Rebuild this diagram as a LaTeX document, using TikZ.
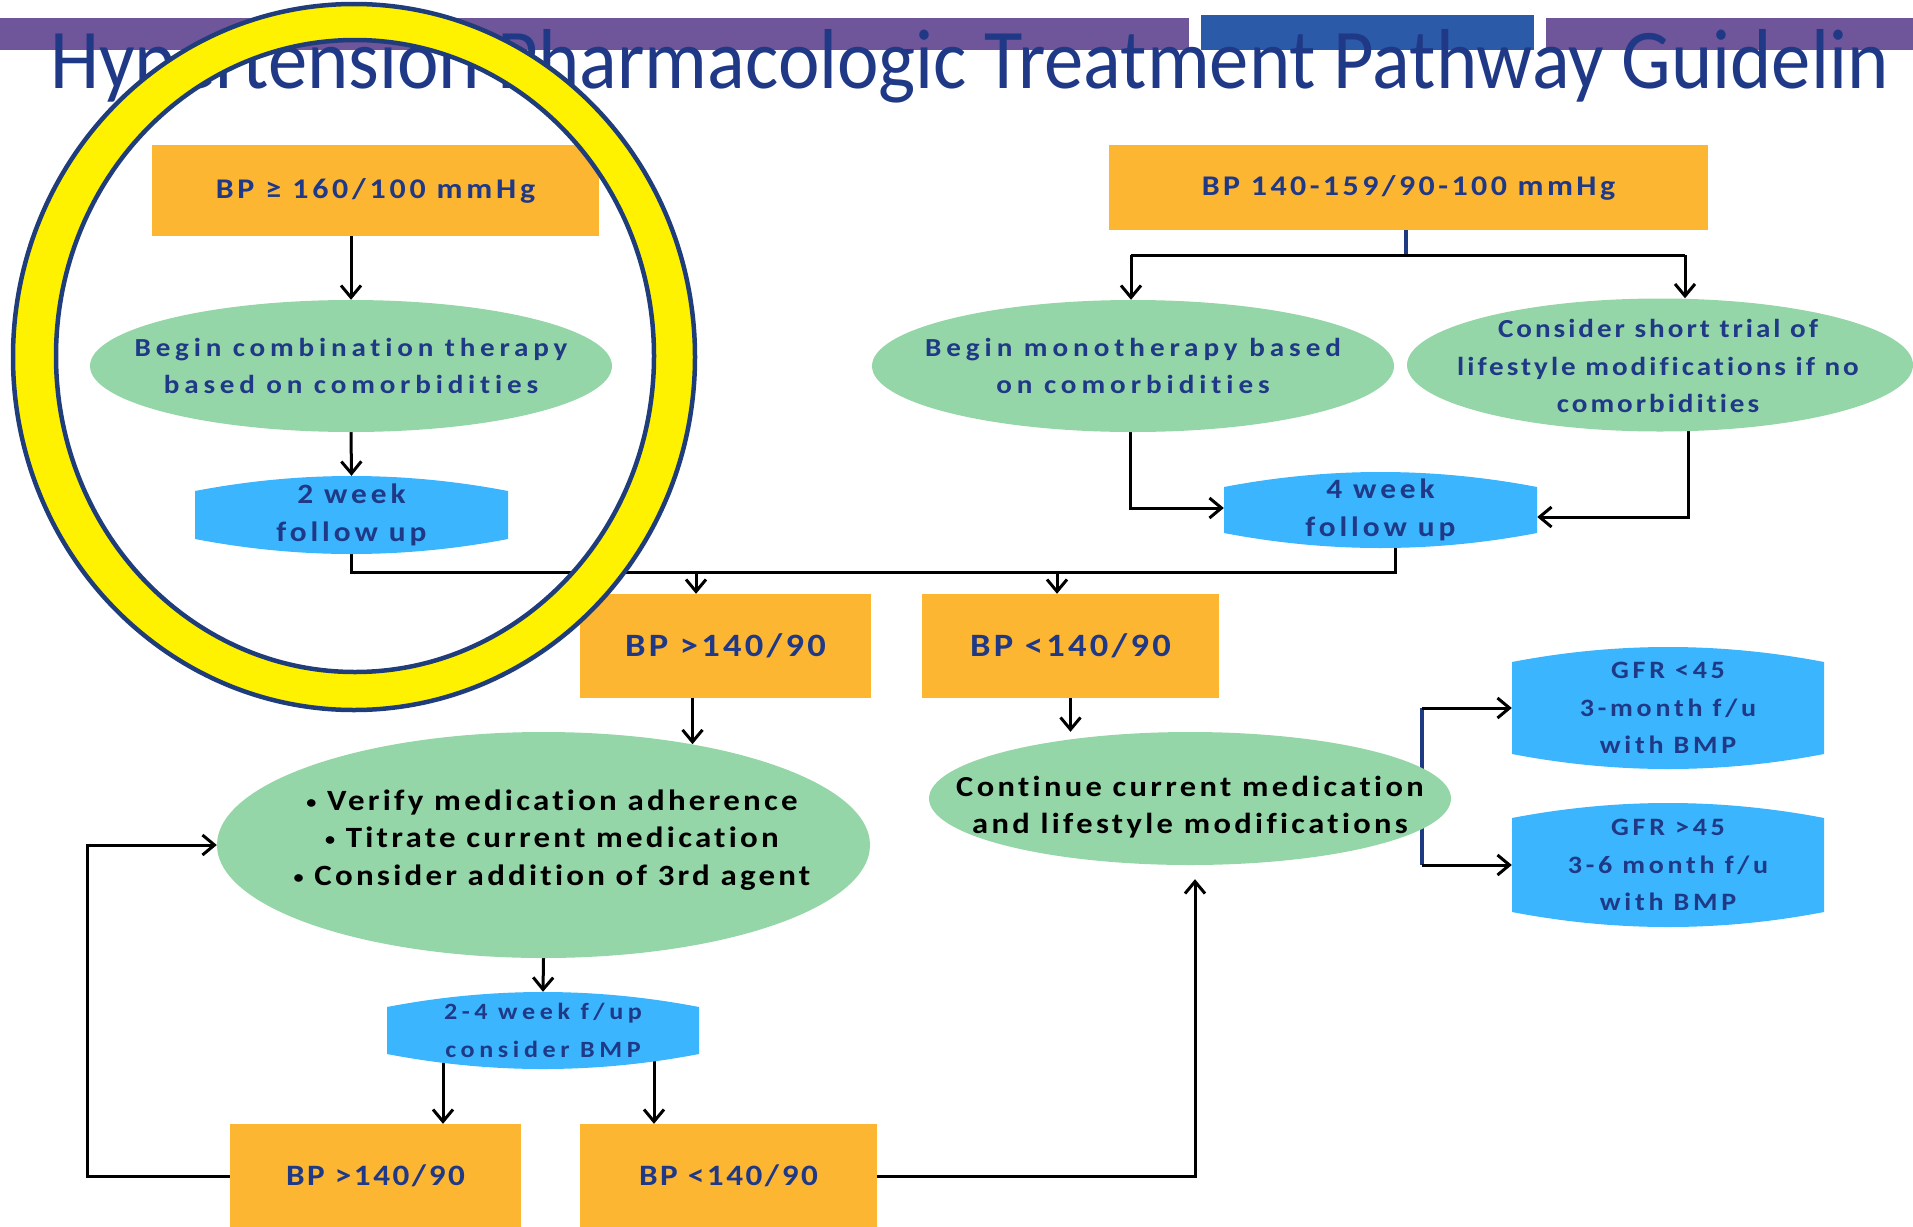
\documentclass[tikz,border=0pt]{standalone}
\usepackage{fontspec}
\setmainfont{Carlito}[Ligatures={TeX,NoCommon}]
\usetikzlibrary{shapes.geometric,arrows.meta,calc,backgrounds}
\definecolor{orng}{RGB}{253,182,50}
\definecolor{grn}{RGB}{149,214,168}
\definecolor{lblu}{RGB}{59,181,253}
\definecolor{tblu}{RGB}{31,57,135}
\definecolor{navyc}{RGB}{30,58,130}
\definecolor{purp}{RGB}{111,85,153}
\definecolor{bblk}{RGB}{42,90,168}
\definecolor{ringc}{RGB}{31,61,122}
\newcommand\myfnt[2]{\fontsize{#1}{37.5}\selectfont\bfseries\addfontfeature{LetterSpace=#2,FakeStretch=1.12}}
\newcommand\smbul{{\fontsize{18}{18}\selectfont\raisebox{2pt}{•}}}
\tikzset{
  rbox/.style={rectangle, fill=orng, inner sep=0pt, text=tblu},
  ell/.style={ellipse, fill=grn, inner sep=0pt},
  txt/.style={inner sep=0pt, align=center},
  lens/.style={rectangle, inner sep=0pt, text=tblu, align=center,
    path picture={
      \fill[lblu] let \p1=(path picture bounding box.south west),
                      \p2=(path picture bounding box.north east),
                      \n1={\x2-\x1} in
        (\x1,\y2-15pt) .. controls (\x1+\n1/3,\y2+5pt) and (\x2-\n1/3,\y2+5pt) .. (\x2,\y2-15pt)
        -- (\x2,\y1+15pt) .. controls (\x2-\n1/3,\y1-5pt) and (\x1+\n1/3,\y1-5pt) .. (\x1,\y1+15pt)
        -- cycle;
    }},
  ln/.style={line width=3pt, draw=black},
  arr/.style={line width=3pt, draw=black, -{Straight Barb[length=12pt,width=20pt]}},
  nv/.style={line width=4.5pt, draw=navyc},
}
\begin{document}
\begin{tikzpicture}[x=1pt,y=-1pt]
\useasboundingbox (0,0) rectangle (1913,1226);

% title
\node[anchor=base west, inner sep=0pt, text=tblu, font=\fontsize{85}{90}\selectfont\addfontfeature{FakeStretch=0.925}] (title) at (50,88) {Hypertension Pharmacologic Treatment Pathway Guidelin};

% top-left branch
\node[rbox, minimum width=447pt, minimum height=91pt, font=\myfnt{28.5}{13.2}] (A) at (375.5,190.5) {BP ≥ 160/100 mmHg};
\node[ell, minimum width=522pt, minimum height=132pt] (ellA) at (351,366) {};
\node[txt, text=tblu, font=\myfnt{26}{18.5}] (ellAt) at (351,366) {Begin combination therapy\\based on comorbidities};
\node[lens, minimum width=313pt, minimum height=78pt, font=\myfnt{28}{14}] (wk2) at (351.5,515) {2 week\\follow up};

% top-right branch
\node[rbox, minimum width=599pt, minimum height=85pt, font=\myfnt{28.5}{12.1}] (B) at (1408.5,187.5) {BP 140-159/90-100 mmHg};
\node[ell, minimum width=522pt, minimum height=132pt] (ellC) at (1133,366) {};
\node[txt, text=tblu, font=\myfnt{26}{19}] (ellCt) at (1133,366) {Begin monotherapy based\\on comorbidities};
\node[ell, minimum width=506pt, minimum height=133pt] (ellD) at (1660,365) {};
\node[txt, text=tblu, font=\myfnt{26}{11.5}] (ellDt) at (1658,366) {Consider short trial of\\lifestyle modifications if no\\comorbidities};
\node[lens, minimum width=313pt, minimum height=76pt, font=\myfnt{28}{14}] (wk4) at (1380.5,510) {4 week\\follow up};

% middle
\node[rbox, minimum width=291pt, minimum height=104pt, font=\myfnt{32.6}{10}] (E) at (725.5,646) {BP >140/90};
\node[rbox, minimum width=297pt, minimum height=104pt, font=\myfnt{32.6}{10}] (F) at (1070.5,646) {BP <140/90};
\node[ell, minimum width=653pt, minimum height=226pt] (G) at (543.5,845) {};
\node[txt, text=black, font=\myfnt{29.4}{11}] (Gt) at (552,840) {\smbul\ Verify medication adherence\\\smbul\ Titrate current medication\\\smbul\ Consider addition of 3rd agent};
\node[ell, minimum width=522pt, minimum height=133pt] (K) at (1190,798.5) {};
\node[txt, text=black, font=\myfnt{29}{11.6}] (Kt) at (1190,807) {Continue current medication\\and lifestyle modifications};
\node[lens, minimum width=312pt, minimum height=77pt, font=\myfnt{23.3}{19.8}] (H) at (543,1030.5) {2-4 week f/up\\consider BMP};
\node[lens, minimum width=312pt, minimum height=122pt, font=\myfnt{25}{15}] (L) at (1668,708) {GFR <45\\3-month f/u\\with BMP};
\node[lens, minimum width=312pt, minimum height=124pt, font=\myfnt{25}{15}] (M) at (1668,865) {GFR >45\\3-6 month f/u\\with BMP};

% bottom
\node[rbox, minimum width=291pt, minimum height=104pt, font=\myfnt{29.6}{8.6}] (I) at (375.5,1176) {BP >140/90};
\node[rbox, minimum width=297pt, minimum height=104pt, font=\myfnt{29.6}{8.6}] (J) at (728.5,1176) {BP <140/90};

\begin{scope}[on background layer]
  \fill[purp] (0,18) rectangle (1189,50);
  \fill[bblk] (1201,15) rectangle (1534,50);
  \fill[purp] (1546,18) rectangle (1913,50);

  \draw[arr] (A.south -| ellA.north) -- (ellA.north);
  \draw[arr] (ellA.south) -- (wk2.north);
  \coordinate (j4) at (1395,572);
  \coordinate (jE) at (696,572);
  \coordinate (jF) at (1057,572);
  \draw[ln] (wk2.south) |- (j4) -- (j4 |- wk4.south);
  \draw[arr] (jE) -- (jE |- E.north);
  \draw[arr] (jF) -- (jF |- F.north);

  \coordinate (jB) at (1406,255);
  \coordinate (jC) at (1131,255);
  \coordinate (jD) at (1685,255);
  \draw[nv] (B.south -| jB) -- (jB);
  \draw[ln] (jC) -- (jD);
  \draw[arr] (jC) -- (jC |- ellC.north);
  \draw[arr] (jD) -- (jD |- ellD.north);
  \draw[arr] ($(ellC.center)+(-3pt,0)$) |- ($(wk4.west)+(0,2pt)$);
  \draw[arr] ($(ellD.center)+(28pt,0)$) |- ($(wk4.east)+(0,-7pt)$);

  \draw[arr] ($(E.south)+(-33pt,0)$) -- ++(0pt,-46pt);
  \draw[arr] (G.south) -- (H.north);
  \draw[arr] ($(H.center)+(-100pt,0)$) coordinate (hI) -- (hI |- I.north);
  \draw[arr] ($(H.center)+(111pt,0)$) coordinate (hJ) -- (hJ |- J.north);
  \draw[arr] (I.west) -- ++(-142pt,0pt) |- (G.west);
  \draw[arr] (J.east) -| ($(K.south)+(5pt,-14pt)$);
  \draw[arr] (F.south) -- (F.south |- K.north);

  \coordinate (kx) at ($(K.east)+(-29pt,0)$);
  \draw[nv] (kx |- L.west) -- (kx |- M.west);
  \draw[arr] (kx |- L.west) -- (L.west);
  \draw[arr] (kx |- M.west) -- (M.west);
\end{scope}

% highlight ring
\fill[yellow, even odd rule] (354,357) ellipse [x radius=341pt, y radius=353pt]
                            (355,356) ellipse [x radius=299pt, y radius=316pt];
\draw[ringc, line width=4.5pt] (354,357) ellipse [x radius=341pt, y radius=353pt];
\draw[ringc, line width=4.5pt] (355,356) ellipse [x radius=299pt, y radius=316pt];
\end{tikzpicture}
\end{document}
